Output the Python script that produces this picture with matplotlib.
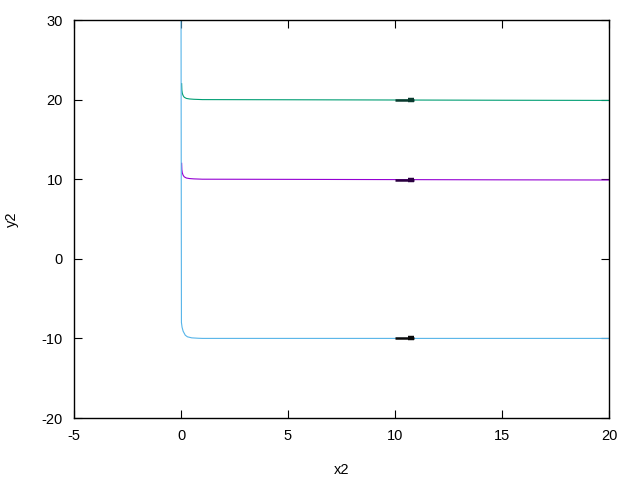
import matplotlib
matplotlib.use('Agg')
import matplotlib.pyplot as plt

plt.rcParams['font.family'] = ['Liberation Sans', 'DejaVu Sans']
plt.rcParams['axes.unicode_minus'] = False

# curves
purple_x = [0.03, 0.04, 0.06, 0.1, 0.15, 0.25, 0.4, 0.6, 1.0, 5.0, 10.0, 15.0, 20.0]
purple_y = [12.0, 11.2, 10.8, 10.5, 10.3, 10.15, 10.08, 10.04, 10.0, 9.98, 9.95, 9.92, 9.9]

teal_x = [0.03, 0.04, 0.06, 0.1, 0.15, 0.25, 0.4, 0.6, 1.0, 5.0, 10.0, 15.0, 20.0]
teal_y = [22.0, 21.2, 20.8, 20.5, 20.3, 20.15, 20.08, 20.04, 20.0, 19.98, 19.95, 19.92, 19.9]

cyan_x = [0.0, 0.02, 0.05, 0.1, 0.2, 0.3, 0.5, 0.8, 1.0, 5.0, 10.0, 15.0, 20.0]
cyan_y = [35.0, -8.0, -8.6, -9.1, -9.6, -9.8, -9.93, -9.98, -10.0, -10.0, -10.0, -10.0, -10.0]

# dark overlay segments near x = 10
seg_x = [10.0, 10.9]
thick_x = [10.6, 10.9]
seg_y = {'purple': 9.95, 'teal': 19.95, 'cyan': -10.0}

colors = {'purple': '#9400d3', 'teal': '#009e73', 'cyan': '#56b4e9'}
dark = {'purple': '#2a0040', 'teal': '#0a3a2e', 'cyan': '#0a0a0a'}

fig = plt.figure(figsize=(6.4, 4.8), dpi=100)
ax = fig.add_axes([74/640, 62/480, 535/640, 398/480])

ax.plot(purple_x, purple_y, color=colors['purple'], lw=0.8)
ax.plot(teal_x, teal_y, color=colors['teal'], lw=0.8)
ax.plot(cyan_x, cyan_y, color=colors['cyan'], lw=0.8)

for k in ['purple', 'teal', 'cyan']:
    y = seg_y[k]
    ax.plot(seg_x, [y, y], color=dark[k], lw=1.8, solid_capstyle='butt')
    ax.plot(thick_x, [y, y], color=dark[k], lw=3.2, solid_capstyle='butt')

ax.set_xlim(-5, 20)
ax.set_ylim(-20, 30)
ax.set_xticks([-5, 0, 5, 10, 15, 20])
ax.set_yticks([-20, -10, 0, 10, 20, 30])
ax.tick_params(direction='in', top=True, right=True, length=6, width=0.8,
               labelsize=10.5, pad=8)
for s in ax.spines.values():
    s.set_linewidth(1.0)

ax.set_xlabel('x2', fontsize=10.5, labelpad=14)
ax.set_ylabel('y2', fontsize=10.5, labelpad=16)

plt.savefig('out.png', dpi=100)
